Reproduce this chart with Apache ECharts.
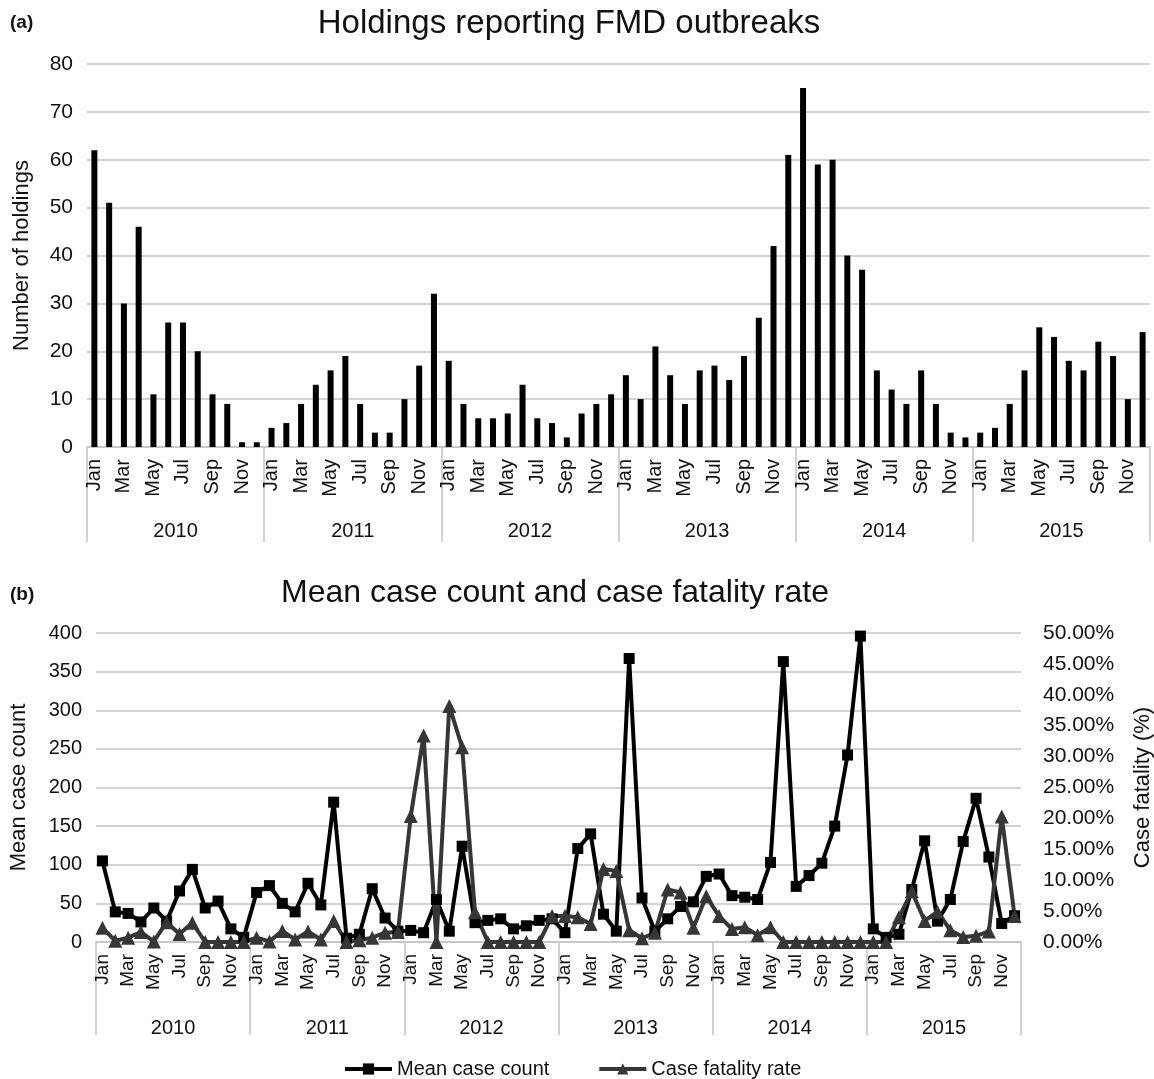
<!DOCTYPE html>
<html>
<head>
<meta charset="utf-8">
<script src="https://cdn.jsdelivr.net/npm/echarts@6/dist/echarts.min.js"></script>
<style>
  body { margin: 0; background: #fff; }
  #chart { width: 1154px; height: 1079px; }
</style>
</head>
<body>
<div id="chart"></div>
<script>
const months = ['Jan','Feb','Mar','Apr','May','Jun','Jul','Aug','Sep','Oct','Nov','Dec']
const years = ['2010','2011','2012','2013','2014','2015']

// holdings reporting FMD outbreaks, monthly 2010-2015
const holdings = [
  62, 51, 30, 46, 11, 26, 26, 20, 11, 9, 1, 1,
  4, 5, 9, 13, 16, 19, 9, 3, 3, 10, 17, 32,
  18, 9, 6, 6, 7, 13, 6, 5, 2, 7, 9, 11,
  15, 10, 21, 15, 9, 16, 17, 14, 19, 27, 42, 61,
  75, 59, 60, 40, 37, 16, 12, 9, 16, 9, 3, 2,
  3, 4, 9, 16, 25, 23, 18, 16, 22, 19, 10, 24
]

const meanCaseCount = [
  105, 39, 37, 26, 44, 27, 66, 94, 44, 53, 17, 6,
  64, 73, 50, 39, 76, 48, 181, 5, 10, 69, 31, 14,
  15, 12, 55, 14, 124, 25, 28, 30, 17, 21, 28, 30,
  12, 121, 140, 36, 14, 367, 57, 14, 30, 46, 52, 85,
  88, 60, 58, 55, 103, 363, 72, 86, 102, 150, 242, 396,
  17, 6, 10, 68, 131, 27, 55, 130, 186, 110, 24, 34
]

// case fatality rate in %
const fatalityRate = [
  2.3, 0.2, 0.7, 1.6, 0.1, 3.2, 1.3, 3.1, 0, 0, 0, 0,
  0.7, 0.1, 1.8, 0.4, 1.7, 0.4, 3.4, 0, 0.3, 0.7, 1.5, 1.6,
  20.4, 33.4, 0, 38.2, 31.5, 4.8, 0, 0, 0, 0, 0, 4.2,
  4.2, 4.0, 2.9, 11.8, 11.5, 1.9, 0.6, 1.5, 8.5, 8.0, 2.3, 7.4,
  4.2, 2.1, 2.4, 1.1, 2.4, 0, 0, 0, 0, 0, 0, 0,
  0, 0, 4.0, 8.2, 3.4, 4.9, 1.9, 0.8, 1.0, 1.7, 20.3, 4.2
]

const monthCats = []
years.forEach(y => months.forEach(m => monthCats.push(m + ' ' + y)))

const FONT = 'Liberation Sans, Arial, sans-serif'
const GRID = '#c4c4c4'

const monthAxis = (gridIndex, size) => ({
  type: 'category', gridIndex, data: monthCats,
  axisLine: {lineStyle: {color: GRID, width: 1.5}},
  axisTick: {show: false},
  axisLabel: {
    interval: 1, rotate: 90, margin: 12, color: '#111',
    fontSize: size, fontFamily: FONT,
    formatter: v => v.split(' ')[0]
  }
})

const yearAxis = (gridIndex, len, margin) => ({
  type: 'category', gridIndex, data: years, position: 'bottom',
  axisLine: {show: false},
  axisTick: {show: true, interval: 0, length: len, lineStyle: {color: GRID, width: 1.5}},
  axisLabel: {interval: 0, margin, color: '#111', fontSize: 20, fontFamily: FONT}
})

const chart = echarts.init(document.getElementById('chart'), null, {renderer: 'canvas'})

chart.setOption({
  animation: false,
  backgroundColor: '#fff',
  textStyle: {fontFamily: FONT},
  title: [
    {text: 'Holdings reporting FMD outbreaks', left: 569, top: 7, textAlign: 'center', padding: 0,
     textStyle: {fontSize: 33, fontWeight: 'normal', color: '#111', fontFamily: FONT}},
    {text: 'Mean case count and case fatality rate', left: 555, top: 577, textAlign: 'center', padding: 0,
     textStyle: {fontSize: 32, fontWeight: 'normal', color: '#111', fontFamily: FONT}},
    {text: '(a)', left: 10, top: 13, padding: 0,
     textStyle: {fontSize: 19, fontWeight: 'bold', color: '#111', fontFamily: FONT}},
    {text: '(b)', left: 10, top: 585, padding: 0,
     textStyle: {fontSize: 19, fontWeight: 'bold', color: '#111', fontFamily: FONT}}
  ],
  legend: {
    bottom: -5, left: 338, itemWidth: 47, itemHeight: 14, itemGap: 48,
    lineStyle: {width: 4},
    textStyle: {fontSize: 20, color: '#111', fontFamily: FONT},
    data: ['Mean case count', 'Case fatality rate']
  },
  grid: [
    {left: 87, right: 4, top: 64, height: 383, outerBoundsMode: 'none'},
    {left: 96, right: 133, top: 633, height: 309, outerBoundsMode: 'none'}
  ],
  xAxis: [
    monthAxis(0, 20),
    yearAxis(0, 95, 74),
    monthAxis(1, 19),
    yearAxis(1, 93, 76)
  ],
  yAxis: [
    {type: 'value', gridIndex: 0, min: 0, max: 80, interval: 10,
     name: 'Number of holdings', nameLocation: 'middle', nameGap: 54, nameRotate: 90,
     nameTextStyle: {fontSize: 22, color: '#111', fontFamily: FONT},
     axisLine: {show: false}, axisTick: {show: false},
     axisLabel: {fontSize: 21, margin: 14, color: '#111', fontFamily: FONT},
     splitLine: {lineStyle: {color: GRID, width: 1.5}}},
    {type: 'value', gridIndex: 1, min: 0, max: 400, interval: 50,
     name: 'Mean case count', nameLocation: 'middle', nameGap: 66, nameRotate: 90,
     nameTextStyle: {fontSize: 22, color: '#111', fontFamily: FONT},
     axisLine: {show: false}, axisTick: {show: false},
     axisLabel: {fontSize: 20, margin: 14, color: '#111', fontFamily: FONT},
     splitLine: {lineStyle: {color: GRID, width: 1.5}}},
    {type: 'value', gridIndex: 1, position: 'right', min: 0, max: 50, interval: 5,
     name: 'Case fatality (%)', nameLocation: 'middle', nameGap: 111, nameRotate: 90,
     nameTextStyle: {fontSize: 22, color: '#111', fontFamily: FONT},
     axisLine: {show: false}, axisTick: {show: false},
     axisLabel: {fontSize: 21, margin: 22, color: '#111', fontFamily: FONT,
                 formatter: v => v.toFixed(2) + '%'},
     splitLine: {show: false}}
  ],
  series: [
    {name: 'Holdings', type: 'bar', xAxisIndex: 0, yAxisIndex: 0,
     data: holdings, barWidth: 6, itemStyle: {color: '#000'}},
    {name: 'Mean case count', type: 'line', xAxisIndex: 2, yAxisIndex: 1,
     data: meanCaseCount, symbol: 'rect', symbolSize: 11, showAllSymbol: true,
     lineStyle: {color: '#000', width: 4}, itemStyle: {color: '#000'}},
    {name: 'Case fatality rate', type: 'line', xAxisIndex: 2, yAxisIndex: 2,
     data: fatalityRate, symbol: 'triangle', symbolSize: 14, showAllSymbol: true,
     lineStyle: {color: '#363636', width: 4}, itemStyle: {color: '#363636'}}
  ]
})
</script>
</body>
</html>
